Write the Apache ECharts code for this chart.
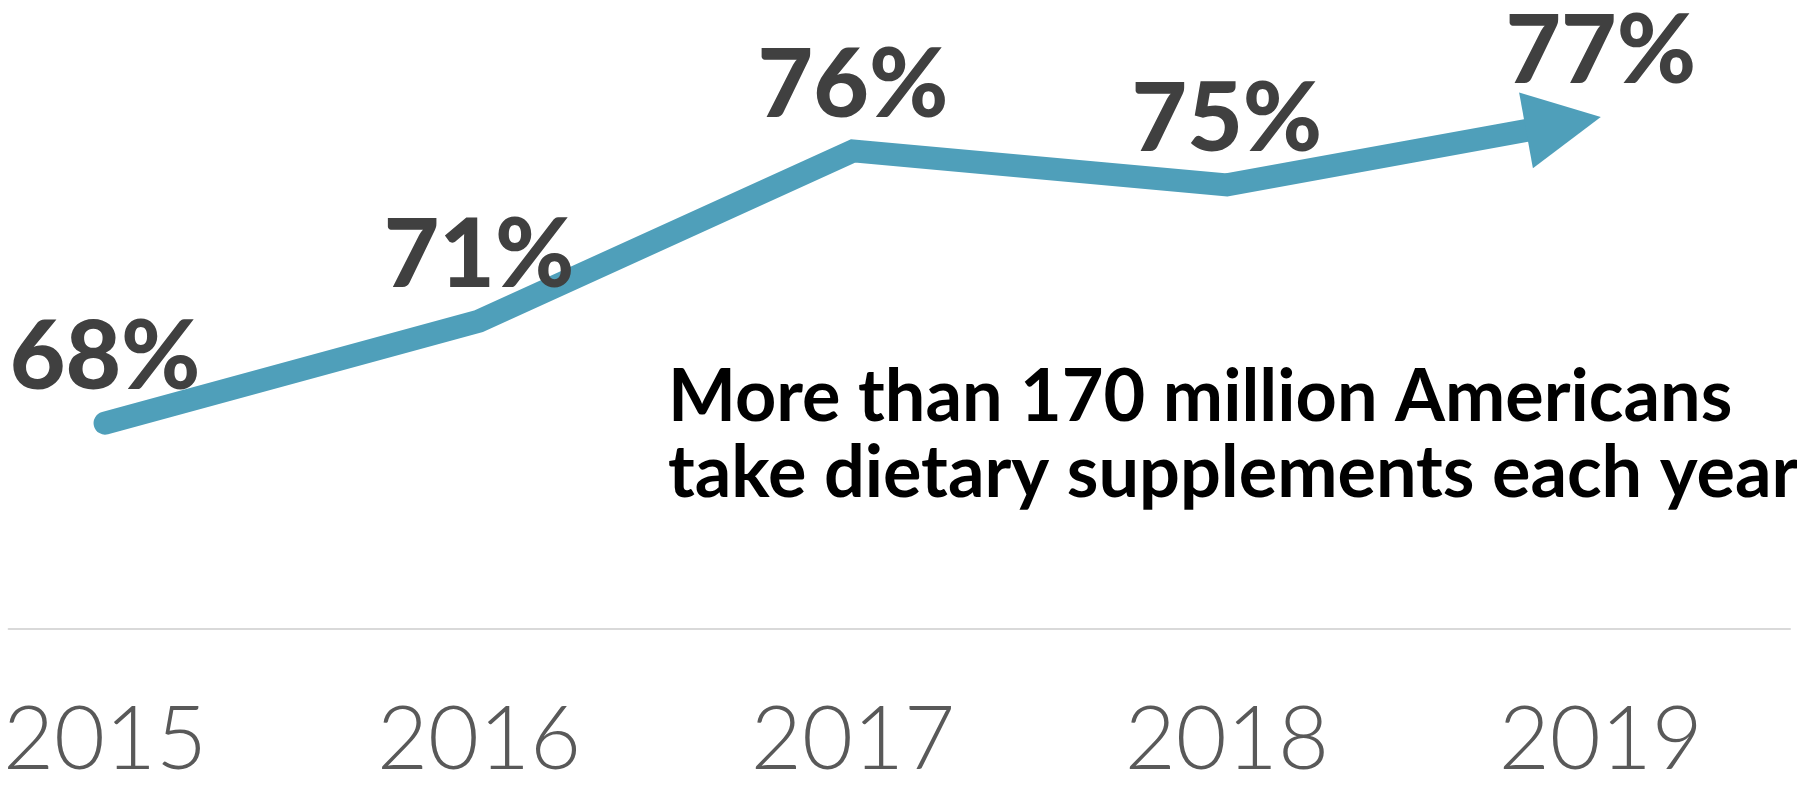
<!DOCTYPE html>
<html>
<head>
<meta charset="utf-8">
<script src="https://cdn.jsdelivr.net/npm/echarts@6/dist/echarts.min.js"></script>
<style>html,body{margin:0;padding:0;background:#fff;overflow:hidden;}#c{width:1797px;height:785px;}</style>
</head>
<body>
<div id="c"></div>
<script>
const years = ['2015', '2016', '2017', '2018', '2019'];
const values = [68, 71, 76, 75, 77];
const note = ['More than 170 million Americans', 'take dietary supplements each year'];

const LINE_COLOR = '#4F9FBA';
const points = values.map((v, i) => [i, v]);

const chart = echarts.init(document.getElementById('c'), null, {renderer: 'canvas'});

function renderArrowLine(params, api) {
  if (params.dataIndex !== 0) return null;
  const pts = points.map(p => api.coord(p));
  const n = pts.length;
  const tip = pts[n - 1], prev = pts[n - 2];
  const dx = tip[0] - prev[0], dy = tip[1] - prev[1];
  const len = Math.sqrt(dx * dx + dy * dy);
  const ux = dx / len, uy = dy / len;
  const headLen = 76, halfW = 38.5;
  const base = [tip[0] - ux * headLen, tip[1] - uy * headLen];
  const px = -uy, py = ux;
  const linePts = pts.slice(0, n - 1).concat([base]);
  return {
    type: 'group',
    children: [
      {
        type: 'polyline',
        shape: {points: linePts},
        style: {stroke: LINE_COLOR, lineWidth: 23, fill: null, lineCap: 'round', lineJoin: 'miter'}
      },
      {
        type: 'polygon',
        shape: {points: [tip, [base[0] + px * halfW, base[1] + py * halfW], [base[0] - px * halfW, base[1] - py * halfW]]},
        style: {fill: LINE_COLOR}
      }
    ]
  };
}

const option = {
  animation: false,
  backgroundColor: '#ffffff',
  grid: {left: 0, right: 7, top: 14.8, bottom: 143, containLabel: false},
  xAxis: {
    type: 'value',
    min: -0.258,
    max: 4.506,
    splitLine: {show: false},
    axisTick: {show: false},
    axisLine: {show: true, lineStyle: {color: '#D9D9D9', width: 2}},
    axisLabel: {
      customValues: [0, 1, 2, 3, 4],
      formatter: v => years[Math.round(v)],
      fontFamily: 'Lato',
      fontWeight: 300,
      fontSize: 88,
      lineHeight: 88,
      color: '#595959',
      margin: 68
    }
  },
  yAxis: {
    type: 'value',
    min: 61.95,
    max: 80,
    show: false
  },
  graphic: [{
    type: 'text',
    left: 668,
    top: 360,
    style: {
      text: note.join('\n'),
      font: 'bold 72px Lato',
      lineHeight: 76,
      fill: '#000000'
    }
  }],
  series: [
    {
      type: 'custom',
      renderItem: renderArrowLine,
      data: points,
      clip: false,
      silent: true
    },
    {
      type: 'scatter',
      data: points,
      symbolSize: 0,
      silent: true,
      itemStyle: {opacity: 1},
      label: {
        show: true,
        position: 'top',
        distance: 17,
        formatter: p => p.value[1] + '%',
        fontFamily: 'Lato',
        fontWeight: 900,
        fontSize: 96,
        lineHeight: 96,
        color: '#404040'
      }
    }
  ]
};
chart.setOption(option);
</script>
</body>
</html>
